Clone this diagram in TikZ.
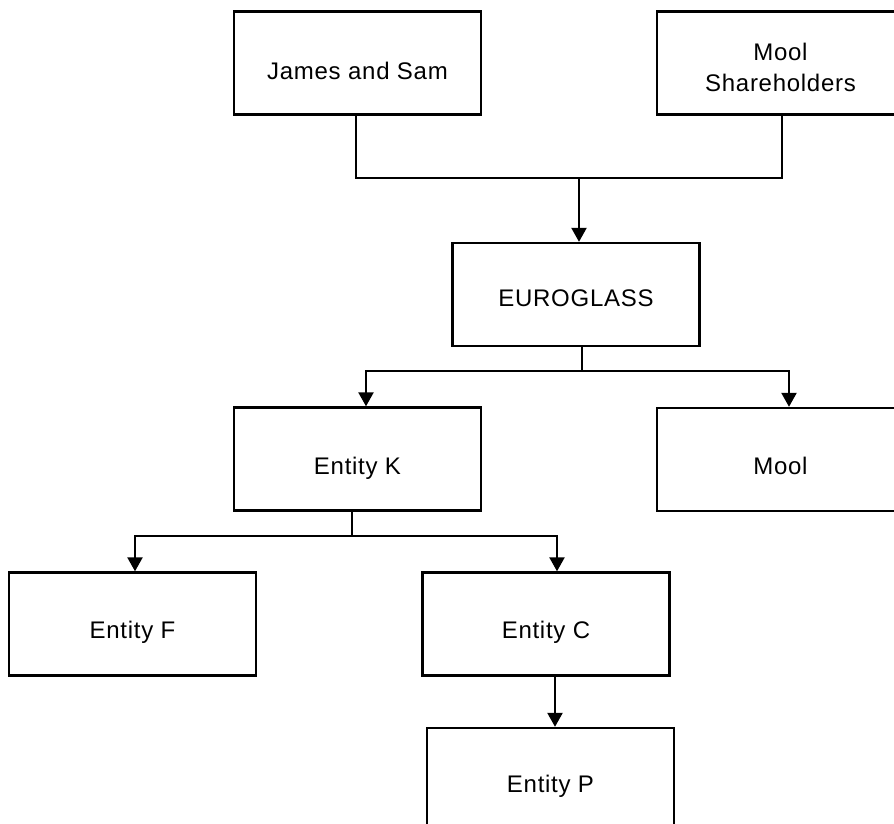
\documentclass[tikz,border=0pt]{standalone}
\usepackage{fontspec}
\setmainfont{Liberation Sans}[LetterSpace=3.0]
\usetikzlibrary{arrows.meta}
\begin{document}
\begin{tikzpicture}[x=1pt,y=-1pt,
  entity/.style={draw, line width=2.4pt, minimum width=247pt, minimum height=103pt,
    inner sep=0pt, font=\fontsize{24}{31}\selectfont, text depth=0pt},
  link/.style={line width=2.4pt},
  arr/.style={link, -{Triangle[width=15pt,length=14pt]}}]
\useasboundingbox (0,0) rectangle (894,823);

% ownership boxes
\node[entity, text height=33.2pt] (js) at (357.5,63) {James and Sam};
\node[entity, text height=56.2pt] (ms) at (780.5,63)
  {\begin{tabular}[b]{@{}c@{}}Mool\\Shareholders\end{tabular}};
\node[entity, text height=24.2pt] (eg) at (576,294.5) {EUROGLASS};
\node[entity, text height=31.2pt] (ek) at (357.5,459) {Entity K};
\node[entity, text height=30.2pt] (mool) at (780.5,459.5) {Mool};
\node[entity, text height=29.2pt] (ef) at (132.5,624) {Entity F};
\node[entity, text height=29.2pt] (ec) at (546,624) {Entity C};
\node[entity, text height=26.2pt] (ep) at (550.5,779.5) {Entity P};

% owners -> EUROGLASS
\coordinate (top) at (579,178);
\draw[link] ([xshift=-1.5pt]js.south) |- (top) -| ([xshift=1.5pt]ms.south);
\draw[arr] (top) -- (top |- eg.north);

% EUROGLASS -> subsidiaries
\coordinate (mid) at (582,371);
\draw[link] (mid |- eg.south) -- (mid);
\draw[arr] (mid) -| ([xshift=8.5pt]ek.north);
\draw[arr] (mid) -| ([xshift=8.5pt]mool.north);

% Entity K -> subsidiaries
\coordinate (low) at (352,536);
\draw[link] (low |- ek.south) -- (low);
\draw[arr] (low) -| ([xshift=2.5pt]ef.north);
\draw[arr] (low) -| ([xshift=11pt]ec.north);

% Entity C -> Entity P
\draw[arr] ([xshift=9pt]ec.south) -- ([xshift=9pt]ec.south |- ep.north);
\end{tikzpicture}
\end{document}
